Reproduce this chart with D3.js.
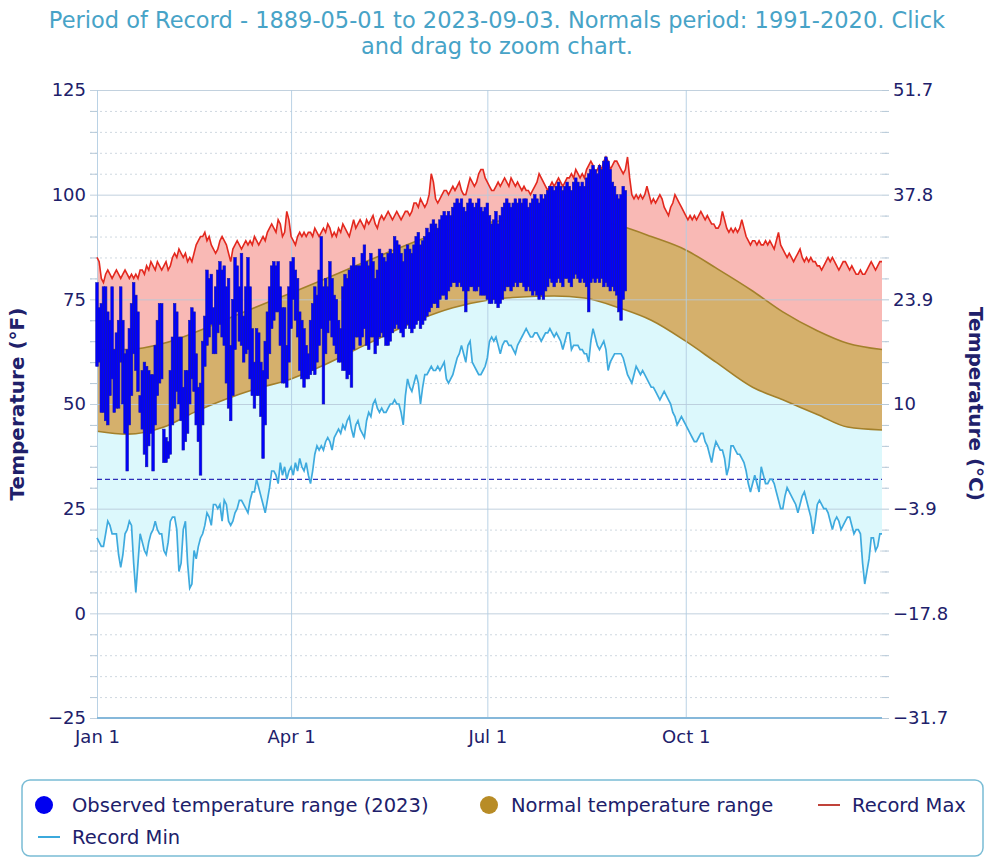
<!DOCTYPE html>
<html>
<head>
<meta charset="utf-8">
<script src="https://cdn.jsdelivr.net/npm/d3@7"></script>
<style>
body { margin: 0; background: #fff; }
text { font-family: "DejaVu Sans", sans-serif; }
</style>
</head>
<body>
<div id="chart"></div>
<script>
// ---- data (2023 calendar, day 0 = Jan 1) ----
var yearStart = new Date(2023, 0, 1);
var yearEnd = new Date(2023, 11, 31);

var recordMax = [
 85,84,80,79,81,82,81,80,81,82, 81,80,81,82,81,80,81,80,81,80,
 82,82,81,83,82,84,83,82,84,83, 82,83,84,82,83,85,86,85,87,86,
 85,86,84,85,84,86,88,89,90,90, 91,89,90,88,87,86,87,89,90,89,
 88,86,84,87,88,89,88,87,88,89, 88,89,88,90,89,88,89,90,89,91,
 92,93,92,91,94,93,90,91,96,94, 90,89,88,90,91,90,91,90,91,91,
 90,92,91,90,91,92,91,93,92,90, 91,90,92,91,93,92,91,90,92,94,
 92,93,94,93,92,94,93,94,95,93, 92,94,95,94,95,96,95,94,95,96,
 95,94,95,96,96,95,96,98,98,97, 99,98,97,98,100,105,103,99,98,99,
 100,101,101,100,101,102,101,102,103,101, 100,100,102,104,103,102,103,105,106,106,
 104,103,102,101,101,102,103,102,103,104, 103,102,104,103,102,103,102,101,102,101,
 101,100,101,102,103,105,104,103,102,101, 102,103,102,103,104,103,102,103,104,104,
 105,104,106,105,104,105,104,106,107,108, 107,105,106,107,106,108,109,108,106,107,
 108,108,107,106,105,106,109,104,100,99, 100,99,100,99,100,102,100,98,99,98,
 99,100,99,97,96,95,97,98,100,99, 98,97,96,95,94,95,94,95,94,95,
 96,95,94,95,94,93,93,92,92,93, 96,94,92,91,92,91,92,91,92,94,
 92,90,89,88,89,89,88,89,88,88, 89,88,89,88,87,89,91,88,87,86,
 85,86,85,84,85,86,87,85,84,85, 84,85,84,84,83,83,82,83,84,85,
 84,85,84,83,82,83,84,84,83,82, 83,82,81,81,82,81,81,82,83,84,
 83,82,83,84,84
];

var recordMin = [
 18,17,16,16,19,22,21,19,19,19, 14,11,14,19,20,22,21,12,5,12,
 19,17,15,14,17,19,20,22,20,19, 19,15,14,17,22,23,23,20,10,12,
 20,22,12,6,7,15,13,16,18,19, 21,24,23,21,26,26,25,26,22,27,
 26,22,21,22,24,25,27,27,26,25, 24,27,29,29,32,30,28,26,24,27,
 30,34,34,33,31,36,33,35,32,34, 35,33,36,34,37,35,34,36,33,31,
 34,38,40,39,40,39,41,42,41,39, 42,43,44,43,45,44,46,47,44,42,
 45,46,44,43,42,46,48,47,50,51, 49,48,49,48,48,49,50,50,51,50,
 50,48,45,52,56,54,53,55,57,55, 50,54,57,57,58,59,58,58,59,58,
 59,60,56,55,56,57,59,61,62,64, 62,60,64,65,60,59,58,57,57,58,
 59,61,65,66,65,66,64,62,64,65, 65,64,64,63,62,64,65,66,67,68,
 67,66,66,67,67,66,65,66,67,67, 68,67,66,67,66,65,63,65,67,67,
 63,64,64,64,63,63,62,62,60,65, 68,66,64,63,64,65,63,58,60,61,
 62,62,62,62,61,59,57,56,55,57, 59,58,57,58,57,56,55,54,54,53,
 52,51,52,53,52,51,50,48,47,45, 46,47,46,45,44,43,42,41,41,42,
 43,43,41,40,38,36,39,41,40,39, 39,37,33,35,40,40,39,38,38,37,
 36,34,31,29,31,33,31,29,35,33, 31,31,32,32,31,29,27,25,25,28,
 30,29,28,27,26,24,26,28,29,27, 25,23,19,22,26,27,26,25,25,24,
 22,20,22,23,22,20,21,22,23,23, 21,19,20,20,19,12,7,10,13,18,
 18,15,16,19,19
];

var normalDates = ["01-01","01-15","02-01","02-15","03-01","03-15","04-01","04-15","05-01","05-15",
  "06-01","06-15","07-01","07-15","08-01","08-15","09-01","09-15","10-01","10-15",
  "11-01","11-15","12-01","12-15","12-31"];
var normalHigh = [63.0,63.0,64.5,67.0,70.0,73.0,76.5,79.5,83.0,86.0,
  89.5,92.0,93.3,94.2,94.8,94.5,92.5,90.0,86.8,82.5,
  77.0,72.0,67.5,64.5,63.0];
var normalLow = [43.5,42.8,44.5,48.0,51.0,53.5,56.0,59.0,63.0,66.5,
  70.5,73.0,74.8,75.5,75.8,75.3,72.8,70.0,65.0,60.0,
  54.0,51.0,47.5,44.5,43.8];

// observed 2023, Jan 1 .. Sep 3
var obsHigh = [
 79,73,74,78,78,72,70,78,63,67, 70,78,70,62,63,68,74,79,76,72,
 52,58,60,59,58,57,57,64,70,74, 74,44,42,41,58,66,74,72,66,66,
 54,58,58,70,73,72,62,54,55,65, 71,82,80,81,73,78,82,84,82,83,
 78,80,64,75,85,83,78,86,71,78, 85,78,68,60,68,67,60,58,65,72,
 78,83,84,83,84,78,73,73,64,78, 84,85,82,80,72,70,68,64,62,70,
 74,78,76,82,90,78,80,78,84,80, 76,75,70,68,78,81,80,82,83,85,
 83,83,83,86,88,84,83,86,84,80, 82,87,86,85,84,86,87,86,90,89,
 88,86,84,87,88,87,86,88,90,91, 88,89,90,92,91,93,94,93,92,94,
 95,96,95,96,95,97,98,99,98,99, 97,96,98,99,98,97,98,99,97,96,
 97,98,95,93,94,96,93,95,97,98, 99,98,97,98,99,98,99,98,99,99,
 97,98,99,100,99,98,100,99,100,101, 102,102,101,102,103,102,101,102,103,102,
 101,103,104,103,102,103,102,104,105,106, 107,106,105,107,106,108,109,108,106,103,
 102,100,99,100,102,101
];
var obsLow = [
 59,60,48,48,46,45,52,56,48,49, 49,60,50,43,34,45,52,62,58,53,
 48,44,38,35,40,43,34,45,52,55, 56,36,36,37,38,45,49,53,50,46,
 39,41,43,50,56,53,45,41,33,45, 59,64,66,69,62,62,67,69,66,64,
 55,49,46,52,63,72,65,64,60,62, 63,56,52,49,52,52,47,37,45,56,
 62,68,70,72,72,64,55,55,54,60, 68,75,70,66,58,56,54,56,56,57,
 58,57,60,64,68,50,62,67,70,66, 64,62,60,60,58,58,56,57,54,63,
 66,66,64,66,68,64,63,66,66,62, 64,66,67,66,64,64,65,67,68,69,
 68,67,66,68,69,68,67,68,69,70, 68,69,70,71,72,73,74,74,73,75,
 76,76,75,77,78,79,79,78,79,78, 77,72,77,78,78,77,77,78,76,76,
 76,75,74,74,75,74,73,74,75,77, 78,78,77,78,79,78,79,79,78,77,
 78,77,76,77,76,75,76,75,77,78, 80,79,78,79,80,79,78,80,80,79,
 78,80,81,80,79,80,79,78,72,79, 80,79,80,79,80,78,79,78,77,78,
 77,76,72,70,75,77
];

var fTicks = [-25, 0, 25, 50, 75, 100, 125];
var fLabels = ["\u221225", "0", "25", "50", "75", "100", "125"];
var cLabels = ["\u221231.7", "\u221217.8", "\u22123.9", "10", "23.9", "37.8", "51.7"];
var minorTicks = [-20,-15,-10,-5,5,10,15,20,30,35,40,45,55,60,65,70,80,85,90,95,105,110,115,120];
var monthTicks = ["01-01", "04-01", "07-01", "10-01"];
var monthLabels = ["Jan 1", "Apr 1", "Jul 1", "Oct 1"];
var freezing = 32;

// ---- chart ----
var margins = [90, 113, 142, 97]; // top, right, bottom, left
var width = 995 - margins[1] - margins[3];
var height = 860 - margins[0] - margins[2];
var navy = "#20206a";
var parseDay = d3.timeParse("%Y-%m-%d");
var dayDate = function(i) { return d3.timeDay.offset(yearStart, i); };

var svg = d3.select("#chart").append("svg").attr("width", 995).attr("height", 860);
var g = svg.append("g").attr("transform", "translate(" + margins[3] + "," + margins[0] + ")");

var x = d3.scaleTime().domain([yearStart, yearEnd]).range([0, width]);
var y = d3.scaleLinear().domain([-25, 125]).range([height, 0]);

var records = recordMax.map(function(v, i) { return {date: dayDate(i), max: v, min: recordMin[i]}; });
var normals = normalDates.map(function(s, i) { return {date: parseDay("2023-" + s), hi: normalHigh[i], lo: normalLow[i]}; });
var observed = obsHigh.map(function(v, i) { return {date: dayDate(i), hi: v, lo: obsLow[i]}; });

// minor dotted grid
var minorAxis = g.append("g").attr("transform", "translate(-7,0)")
    .call(d3.axisLeft(y).tickValues(minorTicks).tickSize(-(width + 14)).tickFormat(""));
minorAxis.select(".domain").remove();
minorAxis.selectAll("line").attr("stroke", "#cfd8e0").attr("stroke-dasharray", "2,3");

// clip regions from the normal curves
var defs = svg.append("defs");
defs.append("clipPath").attr("id", "belowNormal").append("path")
    .attr("d", d3.area().curve(d3.curveMonotoneX)
        .x(function(d) { return x(d.date); }).y0(height).y1(function(d) { return y(d.lo); })(normals));
defs.append("clipPath").attr("id", "aboveNormal").append("path")
    .attr("d", d3.area().curve(d3.curveMonotoneX)
        .x(function(d) { return x(d.date); }).y0(0).y1(function(d) { return y(d.hi); })(normals));

var recArea = d3.area()
    .x(function(d) { return x(d.date); })
    .y0(function(d) { return y(d.min); })
    .y1(function(d) { return y(d.max); });

g.append("path").datum(records).attr("d", recArea).attr("fill", "#dcf8fc").attr("clip-path", "url(#belowNormal)");
g.append("path").datum(records).attr("d", recArea).attr("fill", "#f9b9b5").attr("clip-path", "url(#aboveNormal)");

// normal band
g.append("path").datum(normals)
    .attr("d", d3.area().curve(d3.curveMonotoneX)
        .x(function(d) { return x(d.date); })
        .y0(function(d) { return y(d.lo); })
        .y1(function(d) { return y(d.hi); }))
    .attr("fill", "#d5b06c");
["hi", "lo"].forEach(function(k) {
    g.append("path").datum(normals)
        .attr("d", d3.line().curve(d3.curveMonotoneX)
            .x(function(d) { return x(d.date); }).y(function(d) { return y(d[k]); }))
        .attr("fill", "none").attr("stroke", "#a3802b").attr("stroke-width", 1.6);
});

// major grid + left labels
var yAxis = g.append("g").attr("transform", "translate(-7,0)")
    .call(d3.axisLeft(y).tickValues(fTicks).tickSize(-(width + 7)).tickPadding(4)
        .tickFormat(function(d, i) { return fLabels[i]; }));
yAxis.select(".domain").remove();
yAxis.selectAll("line").attr("stroke", "#b7c9d8").attr("stroke-opacity", 0.85);
yAxis.selectAll("text").attr("fill", navy).attr("font-size", 18);

// right axis in °C
var rAxis = g.append("g").attr("transform", "translate(" + width + ",0)")
    .call(d3.axisRight(y).tickValues(fTicks.concat(minorTicks)).tickSize(7).tickPadding(4)
        .tickFormat(function(d) { var i = fTicks.indexOf(d); return i < 0 ? "" : cLabels[i]; }));
rAxis.select(".domain").remove();
rAxis.selectAll("line").attr("stroke", "#b7c9d8");
rAxis.selectAll("text").attr("fill", navy).attr("font-size", 18);

// left minor tick marks
var lMinor = g.append("g")
    .call(d3.axisLeft(y).tickValues(minorTicks).tickSize(7).tickFormat(""));
lMinor.select(".domain").remove();
lMinor.selectAll("line").attr("stroke", "#b7c9d8");

// x axis with vertical grid
var xAxis = g.append("g").attr("transform", "translate(0," + height + ")")
    .call(d3.axisBottom(x).tickValues(monthTicks.map(function(s) { return parseDay("2023-" + s); }))
        .tickSize(-height).tickPadding(12)
        .tickFormat(function(d, i) { return monthLabels[i]; }));
xAxis.select(".domain").remove();
xAxis.selectAll("line").attr("stroke", "#b3cde2").attr("stroke-opacity", 0.9);
xAxis.selectAll("text").attr("fill", navy).attr("font-size", 18);

// freezing line
g.append("line").attr("x1", 0).attr("x2", width).attr("y1", y(freezing)).attr("y2", y(freezing))
    .attr("stroke", "#2f2fb8").attr("stroke-width", 1.3).attr("stroke-dasharray", "5,3");

// record lines
g.append("path").datum(records)
    .attr("d", d3.line().x(function(d) { return x(d.date); }).y(function(d) { return y(d.min); }))
    .attr("fill", "none").attr("stroke", "#3eaade").attr("stroke-width", 1.7);
g.append("path").datum(records)
    .attr("d", d3.line().x(function(d) { return x(d.date); }).y(function(d) { return y(d.max); }))
    .attr("fill", "none").attr("stroke", "#e3281e").attr("stroke-width", 1.6);

// observed bars
g.append("g").selectAll("rect").data(observed).join("rect")
    .attr("x", function(d) { return x(d.date) - 1.3; })
    .attr("width", 2.6)
    .attr("y", function(d) { return y(d.hi); })
    .attr("height", function(d) { return y(d.lo) - y(d.hi); })
    .attr("fill", "#0000ff").attr("stroke", "#1818a8").attr("stroke-width", 0.6);

// bottom axis line
g.append("line").attr("x1", 0).attr("x2", width).attr("y1", height).attr("y2", height)
    .attr("stroke", "#86b8da").attr("stroke-width", 2);

// axis titles
svg.append("text").attr("transform", "translate(24," + (margins[0] + y(50)) + ")rotate(-90)")
    .attr("text-anchor", "middle").attr("font-weight", "bold").attr("font-size", 20)
    .attr("fill", navy).text("Temperature (°F)");
svg.append("text").attr("transform", "translate(969," + (margins[0] + y(50)) + ")rotate(90)")
    .attr("text-anchor", "middle").attr("font-weight", "bold").attr("font-size", 20)
    .attr("fill", navy).text("Temperature (°C)");

// title
var title = svg.append("text").attr("text-anchor", "middle").attr("font-size", 22.5).attr("fill", "#47a3c7");
title.append("tspan").attr("x", 497).attr("y", 28)
    .text("Period of Record - 1889-05-01 to 2023-09-03. Normals period: 1991-2020. Click");
title.append("tspan").attr("x", 497).attr("y", 54).text("and drag to zoom chart.");

// legend
var lg = svg.append("g");
lg.append("rect").attr("x", 22).attr("y", 780).attr("width", 961).attr("height", 76).attr("rx", 8)
    .attr("fill", "#fff").attr("stroke", "#79bcd5").attr("stroke-width", 1.5);
lg.append("circle").attr("cx", 44).attr("cy", 805).attr("r", 9).attr("fill", "#0000f0");
lg.append("text").attr("x", 72).attr("y", 812).attr("font-size", 19.5).attr("fill", navy)
    .text("Observed temperature range (2023)");
lg.append("circle").attr("cx", 489).attr("cy", 805).attr("r", 9).attr("fill", "#b88c26");
lg.append("text").attr("x", 511).attr("y", 812).attr("font-size", 19.5).attr("fill", navy)
    .text("Normal temperature range");
lg.append("line").attr("x1", 818).attr("x2", 840).attr("y1", 805).attr("y2", 805)
    .attr("stroke", "#c0433a").attr("stroke-width", 2);
lg.append("text").attr("x", 852).attr("y", 812).attr("font-size", 19.5).attr("fill", navy).text("Record Max");
lg.append("line").attr("x1", 38).attr("x2", 60).attr("y1", 837).attr("y2", 837)
    .attr("stroke", "#3ba9dc").attr("stroke-width", 2);
lg.append("text").attr("x", 72).attr("y", 844).attr("font-size", 19.5).attr("fill", navy).text("Record Min");
</script>
</body>
</html>
